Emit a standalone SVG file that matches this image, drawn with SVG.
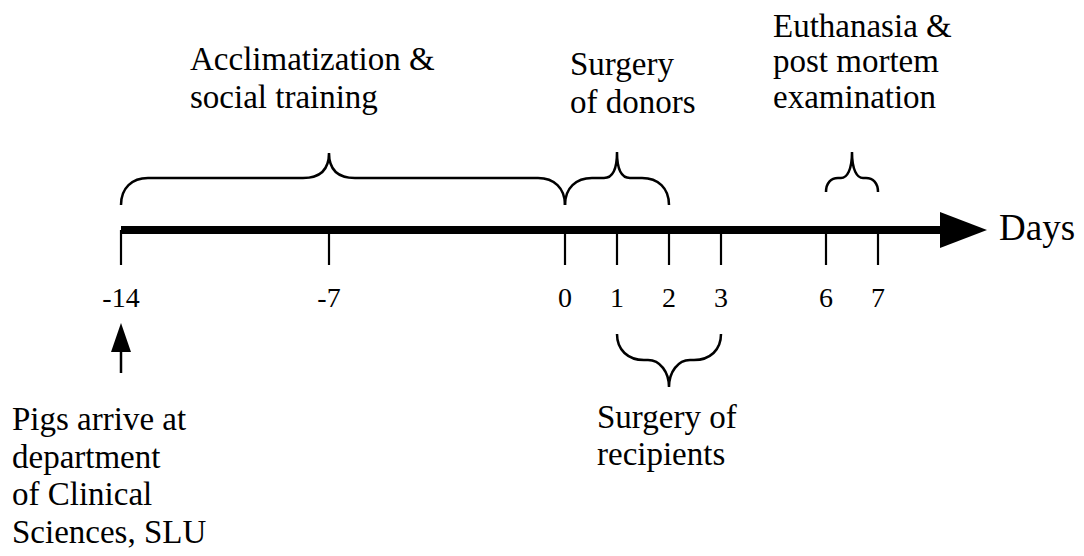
<svg xmlns="http://www.w3.org/2000/svg" width="1084" height="556" viewBox="0 0 1084 556">
<style>
.t{font-family:'Liberation Serif',Tinos,'Times New Roman',Times,serif;fill:#000}
.lbl{font-size:33px}
.num{font-size:28px;text-anchor:middle}
.days{font-size:37px}
.tick{stroke:#000;stroke-width:2.2;fill:none}
.brace{stroke:#000;stroke-width:2.5;fill:none;stroke-linecap:butt}
</style>
<rect width="1084" height="556" fill="#fff"/>
<g id="connectors">
<g id="timeline">
<line x1="121" y1="230" x2="944" y2="230" stroke="#000" stroke-width="8"/>
<polygon points="940,212 987,230 940,248" fill="#000"/>
</g>
<g id="ticks">
<line class="tick" x1="121" y1="230" x2="121" y2="265"/>
<line class="tick" x1="329" y1="230" x2="329" y2="265"/>
<line class="tick" x1="565" y1="230" x2="565" y2="265"/>
<line class="tick" x1="617" y1="230" x2="617" y2="265"/>
<line class="tick" x1="669" y1="230" x2="669" y2="265"/>
<line class="tick" x1="721" y1="230" x2="721" y2="265"/>
<line class="tick" x1="826" y1="230" x2="826" y2="265"/>
<line class="tick" x1="878" y1="230" x2="878" y2="265"/>
</g>
<g id="arrival-arrow">
<line x1="121" y1="373" x2="121" y2="348" stroke="#000" stroke-width="2.5"/>
<polygon points="121,323 111,352 131,352" fill="#000"/>
</g>
<g id="braces">
<path class="brace" d="M121,205 C121,188 132,178 148,178 L303,178 C320,178 329,170 329,153 C329,170 338,178 355,178 L538,178 C554,178 565,188 565,205"/>
<path class="brace" d="M565,205 C565,188 576,178 592,178 L604,178 C612,178 617,170 617,152 C617,170 622,178 630,178 L642,178 C658,178 669,188 669,205"/>
<path class="brace" d="M826,192 C826,183 831,178 838,178 L841,178 C847,178 852,170 852,152 C852,170 857,178 863,178 L866,178 C873,178 878,183 878,192"/>
<path class="brace" d="M617,334 C617,350 628,360 644,360 L648,360 C660,360 669,372 669,387 C669,372 678,360 690,360 L694,360 C710,360 721,350 721,334"/>
</g>
</g>
<g id="labels-numbers" font-family="Liberation Serif">
<text class="t num" x="121" y="307">-14</text>
<text class="t num" x="329" y="307">-7</text>
<text class="t num" x="565" y="307">0</text>
<text class="t num" x="617" y="307">1</text>
<text class="t num" x="669" y="307">2</text>
<text class="t num" x="721" y="307">3</text>
<text class="t num" x="826" y="307">6</text>
<text class="t num" x="878" y="307">7</text>
</g>
<g id="days"><text class="t days" x="999" y="240">Days</text></g>
<g id="acclimatization"><text class="t lbl" x="190" y="70">Acclimatization &amp;</text><text class="t lbl" x="190" y="108">social training</text></g>
<g id="surgery-donors"><text class="t lbl" x="570" y="75">Surgery</text><text class="t lbl" x="570" y="113">of donors</text></g>
<g id="euthanasia"><text class="t lbl" x="773" y="37">Euthanasia &amp;</text><text class="t lbl" x="773" y="72">post mortem</text><text class="t lbl" x="773" y="108">examination</text></g>
<g id="arrival"><text class="t lbl" x="12" y="430">Pigs arrive at</text><text class="t lbl" x="12" y="468">department</text><text class="t lbl" x="12" y="505">of Clinical</text><text class="t lbl" x="12" y="543">Sciences, SLU</text></g>
<g id="surgery-recipients"><text class="t lbl" x="597" y="428">Surgery of</text><text class="t lbl" x="597" y="465">recipients</text></g>
</svg>
